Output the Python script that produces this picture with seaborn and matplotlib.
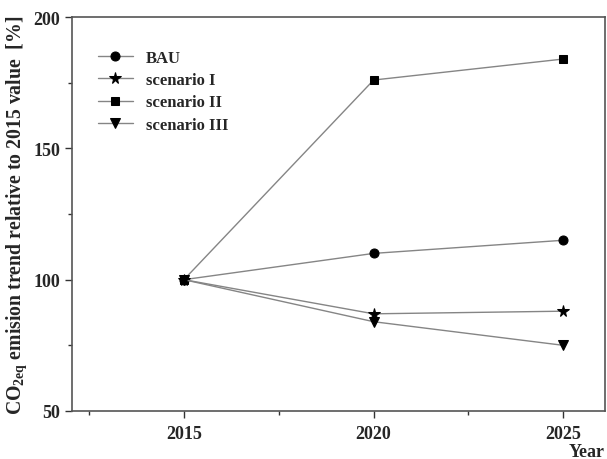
"""
CO2eq emission trend relative to 2015 for several scenarios.
"""

import matplotlib
matplotlib.use("Agg")
import pandas as pd
import seaborn as sns
import matplotlib.pyplot as plt
from matplotlib.ticker import MultipleLocator

# data
years = [2015, 2020, 2025]
bau = [100, 110, 115]
scenario_1 = [100, 87, 88]
scenario_2 = [100, 176, 184]
scenario_3 = [100, 84, 75]

series_names = ["BAU", "scenario I", "scenario II", "scenario III"]
series_values = [bau, scenario_1, scenario_2, scenario_3]
series_markers = ["o", "*", "s", "v"]
marker_sizes = [6.5, 8.5, 6, 7]

sns.set_theme(style="ticks")
plt.rcParams["font.family"] = ["Liberation Serif", "DejaVu Serif"]
plt.rcParams["font.weight"] = "bold"
plt.rcParams["mathtext.fontset"] = "custom"
plt.rcParams["mathtext.rm"] = "Liberation Serif:bold"
plt.rcParams["mathtext.it"] = "Liberation Serif:bold"
plt.rcParams["mathtext.bf"] = "Liberation Serif:bold"


def main():
    fig = plt.figure(figsize=(6.07, 4.6), dpi=100)
    ax = fig.add_axes([72 / 607, 48 / 460, 533 / 607, 394 / 460])

    for name, vals, mk, ms in zip(series_names, series_values,
                                  series_markers, marker_sizes):
        df = pd.DataFrame({"Year": years, "Value": vals})
        sns.lineplot(data=df, x="Year", y="Value", ax=ax, color="#858585",
                     linewidth=1.0, marker=mk, markersize=ms,
                     markerfacecolor="black", markeredgecolor="black",
                     label=name)

    ax.set_xlim(2012.05, 2026.1)
    ax.set_ylim(50, 200)
    ax.set_xticks([2015, 2020, 2025])
    ax.xaxis.set_minor_locator(MultipleLocator(2.5))
    ax.yaxis.set_major_locator(MultipleLocator(50))
    ax.yaxis.set_minor_locator(MultipleLocator(25))
    ax.tick_params(axis="both", which="major", direction="out", length=5,
                   width=1, labelsize=13, color="#333333")
    ax.tick_params(axis="both", which="minor", direction="out", length=3,
                   width=1, color="#333333")
    ax.tick_params(axis="x", which="major", pad=5)
    for lab in ax.get_xticklabels() + ax.get_yticklabels():
        lab.set_fontweight("bold")
    for sp in ax.spines.values():
        sp.set_color("#555555")
        sp.set_linewidth(1.2)

    ax.set_xlabel("")
    ax.set_ylabel(r"CO$_{\mathregular{2eq}}$ emision trend relative to "
                  r"2015 value  [%]", fontsize=14.2, fontweight="bold",
                  labelpad=3)
    fig.text(587 / 607, 1 - 453 / 460, "Year", fontsize=13,
             fontweight="bold", ha="center", va="center")

    leg = ax.legend(loc="upper left", frameon=False, fontsize=12,
                    bbox_to_anchor=(0.02, 0.955), handlelength=2.1,
                    labelspacing=0.38, handletextpad=0.8)
    for t in leg.get_texts():
        t.set_fontweight("bold")

    plt.savefig("out.png", dpi=100)


if __name__ == "__main__":
    main()
